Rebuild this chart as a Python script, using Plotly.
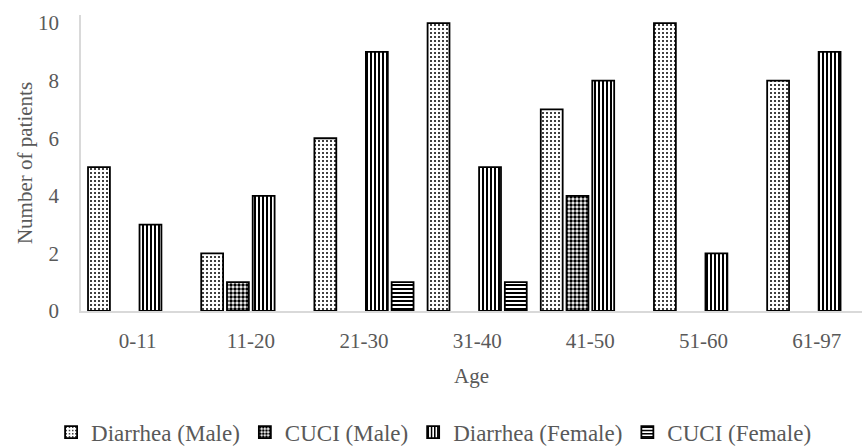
import plotly.graph_objects as go

categories = ["0-11", "11-20", "21-30", "31-40", "41-50", "51-60", "61-97"]
diarrhea_male = [5, 2, 6, 10, 7, 10, 8]
cuci_male = [0, 1, 0, 0, 4, 0, 0]
diarrhea_female = [3, 4, 9, 5, 8, 2, 9]
cuci_female = [0, 0, 1, 1, 0, 0, 0]
y_ticks = [0, 2, 4, 6, 8, 10]

FONT = "Liberation Serif"
GRAY = "#595959"


def nz(vals):
    return [v if v != 0 else None for v in vals]


series = [
    ("Diarrhea (Male)", diarrhea_male, dict(shape=".", size=4, solidity=0.2)),
    ("CUCI (Male)", cuci_male, dict(shape=".", size=4, solidity=0.6)),
    ("Diarrhea (Female)", diarrhea_female, dict(shape="|", size=4, solidity=0.5)),
    ("CUCI (Female)", cuci_female, dict(shape="-", size=4, solidity=0.5)),
]

fig = go.Figure()
for name, vals, pat in series:
    fig.add_trace(go.Bar(
        name=name,
        x=categories,
        y=nz(vals),
        marker=dict(
            color="white",
            line=dict(color="black", width=1.8),
            pattern=dict(fgcolor="black", bgcolor="white", fillmode="replace", **pat),
        ),
    ))

fig.update_layout(
    width=862, height=446,
    margin=dict(l=81, r=0, t=15, b=135),
    paper_bgcolor="white", plot_bgcolor="white",
    barmode="group", bargap=0.09, bargroupgap=0.15,
    font=dict(family=FONT, size=21, color=GRAY),
    showlegend=True,
    legend=dict(
        orientation="h",
        xref="container", yref="container",
        x=0.503, xanchor="center",
        y=0.031, yanchor="middle",
        font=dict(family=FONT, size=23, color=GRAY),
        itemclick=False,
    ),
    xaxis=dict(
        range=[-0.5, 6.40],
        showline=True, linecolor="#d9d9d9", linewidth=1.5,
        showgrid=False, zeroline=False,
        ticks="", ticklabelstandoff=10,
        tickfont=dict(family=FONT, size=21, color=GRAY),
        title=dict(text="Age", standoff=16, font=dict(family=FONT, size=21, color=GRAY)),
    ),
    yaxis=dict(
        range=[0, 10.28],
        tickvals=y_ticks,
        showline=True, linecolor="#d9d9d9", linewidth=1.5,
        showgrid=False, zeroline=False,
        ticks="", ticklabelstandoff=16,
        tickfont=dict(family=FONT, size=21, color=GRAY),
        title=dict(text="Number of patients", standoff=0, font=dict(family=FONT, size=21, color=GRAY)),
    ),
)

fig.write_html("out.html")
